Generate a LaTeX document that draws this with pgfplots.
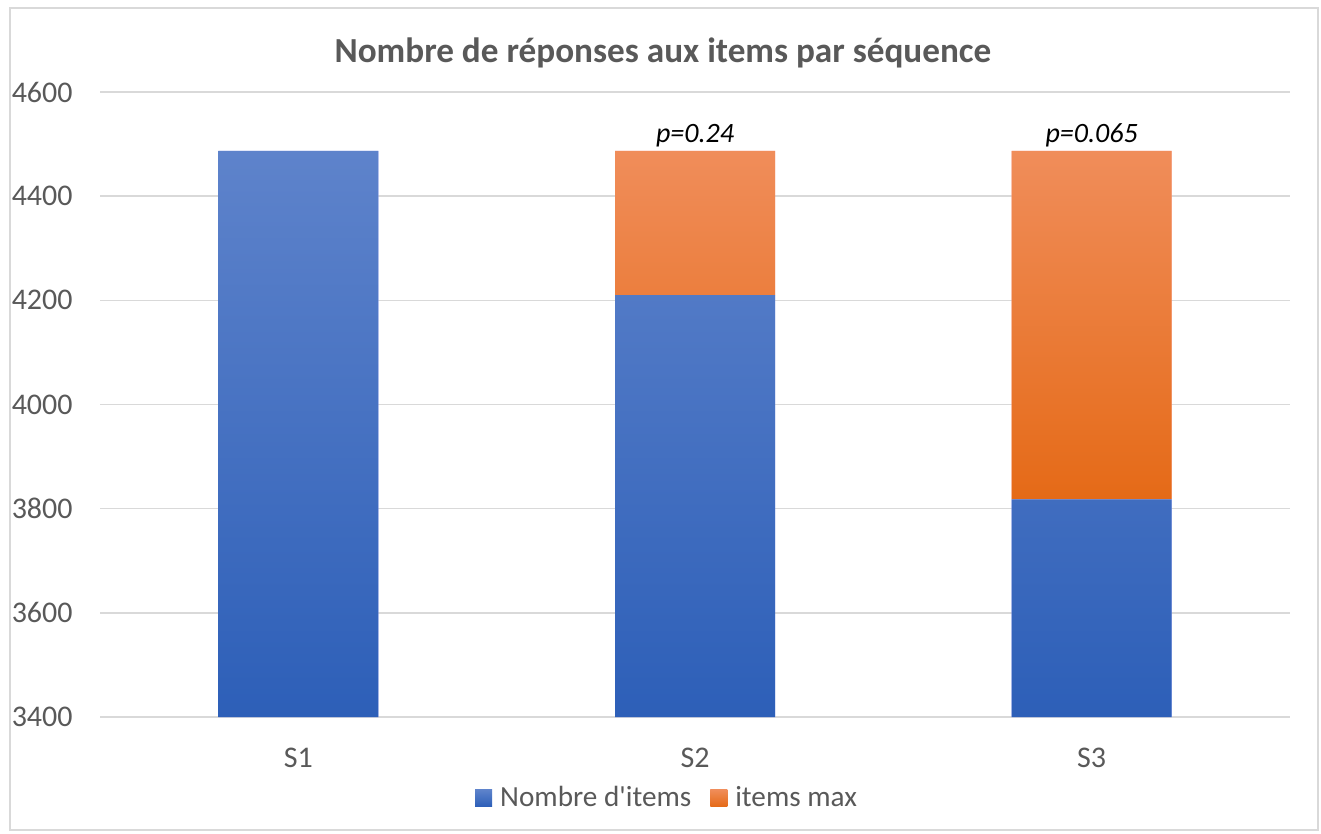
\documentclass[border=0pt]{standalone}
\usepackage{pgfplots}
\pgfplotsset{compat=1.18}
\usepackage{fontspec}
\setmainfont{Carlito}
\definecolor{btop}{HTML}{5E83CB}
\definecolor{bbot}{HTML}{2D5FB8}
\definecolor{otop}{HTML}{F08D5A}
\definecolor{omid}{HTML}{F47D2B}
\definecolor{obot}{HTML}{E56A17}
\definecolor{txt}{HTML}{595959}
\definecolor{gridc}{HTML}{D9D9D9}
\begin{document}
\begin{tikzpicture}
\useasboundingbox (0,0) rectangle (660.5bp,417bp);
\draw[gridc, line width=0.8bp] (5bp,2bp) rectangle (659bp,413bp);
\node[font=\fontsize{17.6bp}{20bp}\selectfont\bfseries, text=txt] at (331.5bp,390.5bp) {Nombre de réponses aux items par séquence};
\begin{axis}[
  at={(50bp,58.5bp)}, anchor=south west,
  scale only axis, width=595bp, height=312.5bp,
  ybar stacked, bar width=80bp,
  xmin=-0.5, xmax=2.5, ymin=3400, ymax=4600,
  xtick={0,1,2}, xticklabels={S1,S2,S3},
  ytick={3400,3600,...,4600},
  axis line style={draw=none},
  major tick length=0pt,
  ymajorgrids, grid style={gridc, line width=0.8bp},
  /pgf/number format/assume math mode=true,
  /pgf/number format/1000 sep={},
  tick label style={font=\fontsize{15bp}{18bp}\selectfont, text=txt},
  yticklabel style={inner sep=0pt, anchor=east, xshift=-13.5bp},
  xticklabel style={inner sep=0pt, anchor=north, yshift=-15.5bp},
  legend style={at={(0.477,-0.1296)}, anchor=center, draw=none, fill=none,
    font=\fontsize{14.6bp}{16bp}\selectfont, text=txt,
    legend columns=2, legend cell align=left,
    /tikz/every even column/.append style={column sep=8bp},
    nodes={inner sep=1.5bp}},
  clip=false,
]
\addplot+[draw=none, top color=btop, bottom color=bbot,
  legend image code/.code={\shade[top color=btop, bottom color=bbot] (0bp,-4.25bp) rectangle (8.5bp,4.25bp); \path (11bp,0bp);}]
  coordinates {(0,4487) (1,4210) (2,3818)};
\addlegendentry{Nombre d\textquotesingle items}
\addplot+[draw=none, top color=otop, middle color=omid, bottom color=obot,
  legend image code/.code={\shade[top color=otop, bottom color=obot] (0bp,-4.25bp) rectangle (8.5bp,4.25bp); \path (11bp,0bp);}]
  coordinates {(0,0) (1,277) (2,669)};
\addlegendentry{items max}
\node[anchor=south, font=\fontsize{14bp}{16bp}\selectfont\itshape, inner sep=0pt] at (axis cs:1,4487) [yshift=1.5bp] {p=0.24};
\node[anchor=south, font=\fontsize{14bp}{16bp}\selectfont\itshape, inner sep=0pt] at (axis cs:2,4487) [yshift=1.5bp] {p=0.065};
\end{axis}
\end{tikzpicture}
\end{document}
